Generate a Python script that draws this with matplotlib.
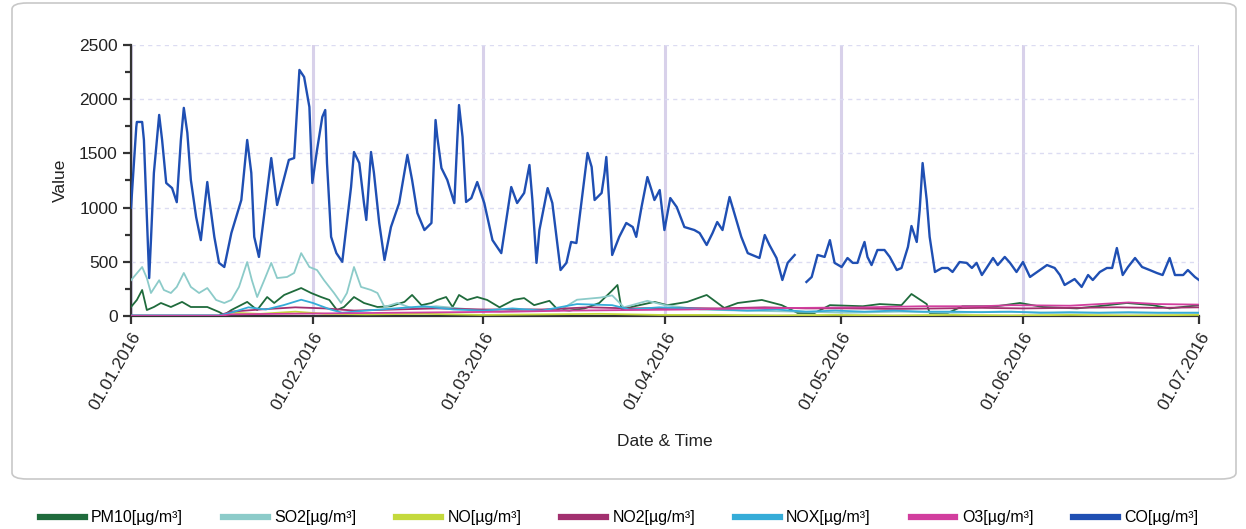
"""Air quality time series, Jan-Jul 2016: daily pollutant values per station."""

import matplotlib
matplotlib.use("Agg")
import matplotlib.pyplot as plt
import matplotlib.dates as mdates
import numpy as np
from matplotlib.lines import Line2D
from matplotlib.patches import FancyBboxPatch
from matplotlib.ticker import MultipleLocator

plt.rcParams["font.family"] = ["Liberation Sans", "DejaVu Sans"]

START = np.datetime64("2016-01-01")

# days since 01.01.2016, value
co_days = [0.0, 0.9, 1.0, 1.9, 2.2, 3.1, 3.4, 3.9, 4.8, 5.3, 6.0, 7.0, 7.8, 8.5, 9.0, 9.6,
           10.2, 11.1, 11.9, 13.0, 13.3, 14.2, 15.0, 15.9, 17.1, 18.8, 19.8, 20.5, 21.0,
           21.8, 23.9, 24.9, 26.9, 27.8, 28.7, 29.5, 30.4, 30.9, 31.7, 32.6, 33.1, 33.4,
           34.1, 35.0, 36.0, 37.5, 38.0, 38.9, 39.7, 40.1, 40.9, 41.4, 42.3, 43.2, 44.3,
           45.7, 47.1, 47.9, 48.8, 50.0, 51.2, 51.9, 52.2, 52.9, 53.9, 55.1, 55.6, 55.9,
           56.5, 57.1, 58.0, 59.0, 60.2, 61.6, 63.1, 64.8, 65.8, 67.0, 67.9, 68.4, 69.1,
           69.6, 71.0, 71.8, 73.2, 74.2, 75.0, 75.9, 76.8, 77.8, 78.5, 79.0, 80.2, 80.7,
           81.0, 81.5, 82.0, 83.2, 84.4, 85.5, 86.1, 87.0, 88.0, 88.7, 89.2, 90.1, 90.9,
           91.9, 93.0, 94.3, 96.0, 96.9, 98.1, 99.1, 99.9, 100.8, 102.0, 102.8, 104.0,
           105.1, 107.1, 108.0, 108.8, 110.0, 111.0, 111.9, 113.1, 114.1, 115.1, 116.0,
           117.0, 118.2, 119.1, 119.9, 121.1, 122.1, 123.0, 123.8, 124.5, 125.0, 125.5,
           126.2, 127.2, 128.4, 129.3, 130.5, 131.3, 132.4, 133.0, 133.9, 134.4, 134.9,
           135.6, 136.1, 137.0, 138.2, 139.2, 140.0, 141.2, 142.4, 143.3, 144.1, 145.0,
           145.8, 146.9, 147.7, 148.9, 149.8, 150.9, 152.0, 153.2, 154.4, 156.1, 157.4,
           158.3, 159.1, 160.8, 162.0, 163.1, 163.9, 165.1, 166.3, 167.2, 168.0, 169.0,
           169.9, 171.1, 172.3, 173.6, 174.8, 175.8, 177.0, 177.9, 179.3, 180.1, 181.3,
           182.0]
co_vals = [1000, 1743, 1790, 1790, 1624, 350, 700, 1320, 1855, 1624, 1227, 1180, 1050, 1624,
           1920, 1690, 1255, 913, 700, 1236, 1098, 730, 490, 452, 765, 1070, 1624, 1320, 730,
           545, 1457, 1024, 1440, 1457, 2270, 2205, 1928, 1227, 1531, 1836, 1900, 1411, 730,
           580, 500, 1190, 1513, 1411, 1042, 886, 1513, 1320, 858, 517, 821, 1042, 1485,
           1255, 950, 793, 858, 1808, 1651, 1365, 1255, 1042, 1624, 1946, 1651, 1052, 1088,
           1236, 1042, 700, 580, 1190, 1042, 1135, 1393, 1070, 490, 793, 1180, 1042, 424,
           490, 683, 673, 1070, 1504, 1375, 1070, 1135, 1320, 1467, 1042, 563, 730, 858,
           821, 730, 1005, 1282, 1162, 1070, 1162, 793, 1088, 1005, 821, 793, 765, 655, 765,
           867, 793, 1098, 950, 730, 580, 535, 747, 655, 535, 332, 490, 563, np.nan, 314,
           360, 563, 545, 700, 490, 452, 535, 490, 490, 609, 683, 545, 470, 609, 609, 545,
           424, 443, 637, 830, 683, 978, 1411, 1070, 730, 406, 443, 443, 406, 498, 490, 443,
           490, 378, 443, 535, 470, 545, 490, 406, 498, 360, 406, 470, 443, 378, 286, 341,
           268, 378, 332, 406, 443, 443, 627, 378, 452, 535, 452, 424, 397, 378, 535, 378,
           378, 424, 360, 332]

pm10_days = [0.0, 1.0, 1.9, 2.7, 3.9, 5.1, 6.8, 8.7, 10.2, 13.0, 15.0, 15.9, 17.1, 19.8,
             21.5, 23.2, 24.4, 26.1, 29.0, 30.7, 32.4, 33.8, 35.1, 36.3, 38.0, 39.7, 42.0,
             44.3, 46.6, 47.9, 49.5, 51.2, 52.2, 53.7, 54.8, 55.9, 57.3, 59.0, 60.7, 62.8,
             65.3, 67.0, 68.7, 71.3, 72.7, 74.7, 77.3, 79.8, 81.9, 82.9, 83.6, 85.8, 89.2,
             91.4, 94.8, 98.1, 101.1, 103.4, 107.5, 110.9, 113.6, 116.5, 119.1, 124.7,
             127.6, 131.3, 133.0, 135.6, 136.1, 139.2, 141.7, 147.5, 151.5, 155.4, 161.2,
             165.1, 169.7, 174.1, 177.0, 182.0]
pm10_vals = [83, 148, 240, 55, 83, 120, 83, 130, 83, 83, 37, 10, 55, 130, 55, 175, 120, 194,
             258, 212, 175, 148, 55, 83, 175, 120, 83, 90, 130, 194, 100, 120, 148, 175, 83,
             194, 148, 175, 148, 80, 150, 165, 100, 140, 60, 50, 70, 120, 230, 286, 60, 90,
             130, 100, 130, 194, 74, 120, 148, 100, 28, 28, 100, 90, 110, 100, 203, 110, 28,
             28, 90, 90, 120, 83, 70, 92, 120, 100, 70, 100]

so2_days = [0.0, 1.9, 2.7, 3.4, 4.8, 5.6, 6.8, 7.8, 9.0, 10.2, 11.6, 13.0, 14.5, 15.9, 17.1,
            18.4, 19.8, 20.6, 21.5, 22.7, 23.9, 24.9, 26.6, 27.8, 29.0, 30.4, 31.7, 32.9,
            34.6, 35.8, 36.8, 38.0, 39.2, 40.9, 42.0, 43.2, 45.4, 48, 52, 58, 63, 68, 73,
            76, 80, 82, 84, 88, 91, 97, 104, 114, 122, 131, 140, 148, 157, 165, 174, 182]
so2_vals = [330, 452, 350, 212, 330, 240, 212, 268, 397, 268, 212, 258, 148, 120, 148, 268,
            498, 330, 175, 330, 490, 350, 360, 397, 580, 452, 424, 330, 212, 120, 212, 452,
            268, 240, 212, 83, 120, 70, 90, 60, 40, 60, 50, 150, 170, 190, 80, 140, 100, 60,
            50, 40, 30, 40, 30, 40, 30, 30, 30, 30]

no_days = [0, 15, 17, 22, 28, 33, 40, 50, 60, 70, 80, 90, 100, 110, 120, 130, 140, 150, 160,
           170, 182]
no_vals = [0, 0, 30, 20, 40, 20, 15, 20, 10, 15, 20, 10, 10, 5, 10, 5, 10, 5, 10, 5, 10]

no2_days = [0, 15, 17, 22, 28, 33, 38, 45, 52, 60, 70, 78, 85, 92, 100, 108, 115, 122, 130,
            138, 145, 152, 160, 168, 175, 182]
no2_vals = [5, 5, 40, 60, 80, 70, 50, 60, 70, 60, 60, 80, 70, 75, 70, 80, 70, 70, 65, 70, 75,
            70, 75, 80, 75, 80]

nox_days = [0, 15, 17, 20, 23, 26, 29, 31, 34, 36, 40, 45, 50, 55, 60, 65, 70, 76, 82, 85,
            90, 95, 100, 105, 110, 115, 120, 125, 130, 135, 140, 145, 150, 155, 160, 165,
            170, 175, 182]
nox_vals = [5, 5, 30, 80, 60, 100, 150, 120, 60, 30, 50, 70, 90, 60, 50, 70, 50, 110, 100,
            60, 80, 70, 60, 50, 60, 40, 50, 40, 50, 40, 40, 35, 40, 30, 35, 30, 35, 30, 30]

o3_days = [0, 15, 17, 25, 35, 45, 55, 65, 75, 85, 95, 105, 115, 125, 135, 145, 150, 160,
           165, 170, 175, 182]
o3_vals = [0, 0, 15, 20, 25, 30, 35, 40, 50, 55, 60, 70, 75, 80, 90, 90, 100, 95, 110, 125,
           110, 105]

SERIES = [
    ("PM10[µg/m³]", pm10_days, pm10_vals, "#1f6b3c"),
    ("SO2[µg/m³]", so2_days, so2_vals, "#8ccbc9"),
    ("NO[µg/m³]", no_days, no_vals, "#c4d93c"),
    ("NO2[µg/m³]", no2_days, no2_vals, "#a2306f"),
    ("NOX[µg/m³]", nox_days, nox_vals, "#35acd8"),
    ("O3[µg/m³]", o3_days, o3_vals, "#d23e9e"),
    ("CO[µg/m³]", co_days, co_vals, "#1f4fb3"),
]


def to_dates(days):
    base = mdates.date2num(START.astype("datetime64[D]").item())
    return base + np.asarray(days, dtype=float)


def main() -> None:
    fig = plt.figure(figsize=(12.46, 5.29), dpi=100)
    fig.patch.set_facecolor("white")

    # rounded frame around the chart
    frame = FancyBboxPatch((12 / 1246, 50 / 529), 1224 / 1246, 476 / 529,
                           boxstyle="round,pad=0,rounding_size=0.012",
                           transform=fig.transFigure, facecolor="none",
                           edgecolor="#c8c8c8", linewidth=1.2)
    fig.add_artist(frame)

    ax = fig.add_axes([131 / 1246, 213 / 529, 1068 / 1246, 271 / 529])

    for name, days, vals, color in SERIES:
        lw = 1.7 if name.startswith("CO") else 1.3
        ax.plot(to_dates(days), vals, color=color, linewidth=lw,
                zorder=5 if name.startswith("CO") else 3)

    ax.set_xlim(to_dates([0])[0], to_dates([182])[0])
    ax.set_ylim(0, 2500)

    ax.xaxis.set_major_locator(mdates.MonthLocator())
    ax.xaxis.set_major_formatter(mdates.DateFormatter("%d.%m.%Y"))
    ax.yaxis.set_major_locator(MultipleLocator(500))
    ax.yaxis.set_minor_locator(MultipleLocator(250))

    ax.grid(axis="x", which="major", color="#d8d1ea", linewidth=2.2, zorder=0)
    ax.grid(axis="y", which="major", color="#dcdcf2", linewidth=1.0,
            linestyle=(0, (3, 3)), zorder=0)

    for side in ("top", "right"):
        ax.spines[side].set_visible(False)
    ax.spines["left"].set_color("#333333")
    ax.spines["bottom"].set_color("#333333")
    ax.spines["left"].set_linewidth(1.6)
    ax.spines["bottom"].set_linewidth(1.6)

    ax.tick_params(axis="both", which="both", direction="out", color="#333333",
                   width=1.6, labelsize=12.5, labelcolor="#222222")
    ax.tick_params(axis="both", which="major", length=6)
    ax.tick_params(axis="y", which="minor", length=4)
    for lbl in ax.get_xticklabels():
        lbl.set_rotation(60)
        lbl.set_ha("right")
        lbl.set_rotation_mode("anchor")

    ax.set_ylabel("Value", fontsize=12.5, color="#222222", labelpad=8)
    ax.set_xlabel("Date & Time", fontsize=12.5, color="#222222", labelpad=16)

    handles = [Line2D([], [], color=c, linewidth=4.5) for _, _, _, c in SERIES]
    labels = [n for n, _, _, _ in SERIES]
    fig.legend(handles, labels, loc="lower center", bbox_to_anchor=(0.497, -0.02),
               ncol=7, frameon=False, fontsize=11.5, handlelength=2.8,
               columnspacing=2.5, handletextpad=0.4)

    fig.savefig("out.png", dpi=100)


if __name__ == "__main__":
    main()
